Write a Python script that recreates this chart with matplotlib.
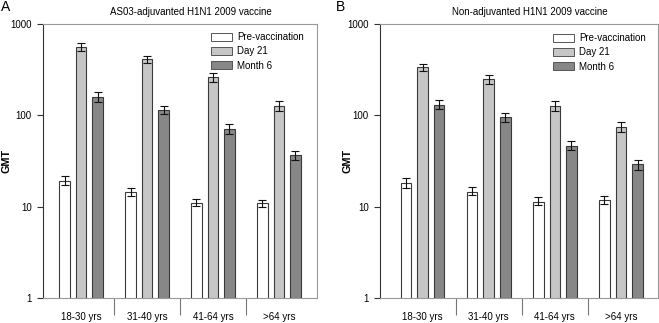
import matplotlib
matplotlib.use("Agg")
import matplotlib.pyplot as plt
import numpy as np
from matplotlib.patches import Patch

plt.rcParams['font.family'] = ['Liberation Sans', 'DejaVu Sans']

categories = ["18-30 yrs", "31-40 yrs", "41-64 yrs", ">64 yrs"]
series = ["Pre-vaccination", "Day 21", "Month 6"]

# Panel A: AS03-adjuvanted
a_pre = [19.3, 14.4, 11.1, 10.9]
a_pre_lo = [17.3, 13.2, 10.2, 9.9]
a_pre_hi = [21.9, 16.1, 12.05, 11.8]
a_d21 = [565, 411, 261, 127]
a_d21_lo = [511, 378, 234, 112]
a_d21_hi = [625, 447, 294, 142]
a_m6 = [160, 115, 71.5, 36.8]
a_m6_lo = [141, 103, 63, 32.5]
a_m6_hi = [182, 128, 79.6, 40.8]

# Panel B: Non-adjuvanted
b_pre = [18.2, 14.5, 11.3, 11.8]
b_pre_lo = [16.2, 13.4, 10.3, 10.8]
b_pre_hi = [20.8, 16.6, 12.6, 13.1]
b_d21 = [334, 247, 126, 74]
b_d21_lo = [304, 219, 112, 65]
b_d21_hi = [369, 273, 144, 85]
b_m6 = [131, 95, 46.7, 29.1]
b_m6_lo = [116, 84, 41.5, 25.5]
b_m6_hi = [149, 106, 53, 32.8]

colors = ["#ffffff", "#c6c6c6", "#878787"]
edge = "#3a3a3a"

W, H = 659, 323
fig = plt.figure(figsize=(W / 100, H / 100), dpi=100)


def px_axes(l, r, t, b):
    return fig.add_axes([l / W, 1 - b / H, (r - l) / W, (b - t) / H])


def draw(ax, vals, los, his, xlim, title, title_x, letter, letter_x, ylab_x, leg_xy):
    x = np.arange(len(categories))
    offs = [-0.25, 0.0, 0.25]
    bw = 0.16
    for v, lo, hi, off, c in zip(vals, los, his, offs, colors):
        v = np.array(v); lo = np.array(lo); hi = np.array(hi)
        ax.bar(x + off, v, width=bw, color=c, edgecolor=edge, linewidth=0.8, zorder=2)
        ax.errorbar(x + off, v, yerr=[v - lo, hi - v], fmt='none', ecolor='#111111',
                    elinewidth=0.8, capsize=3.2, capthick=0.8, zorder=3)
    ax.set_yscale('log')
    ax.set_ylim(1, 1000)
    ax.set_xlim(*xlim)
    ax.set_yticks([1, 10, 100, 1000])
    ax.set_yticklabels(["1", "10", "100", "1000"])
    ax.yaxis.set_minor_locator(matplotlib.ticker.NullLocator())
    ax.tick_params(axis='y', which='major', length=4, width=0.8, color='#333333',
                   labelsize=7, pad=4)
    ax.set_xticks(x)
    ax.set_xticklabels(categories)
    ax.tick_params(axis='x', which='major', length=0, labelsize=7, pad=10)
    ax.set_xticks(x[:-1] + 0.5, minor=True)
    ax.tick_params(axis='x', which='minor', length=12, width=0.8, color='#777777')
    ax.spines['left'].set_color('#333333')
    ax.spines['left'].set_linewidth(0.8)
    for s in ['top', 'right', 'bottom']:
        ax.spines[s].set_color('#999999')
        ax.spines[s].set_linewidth(0.8)
    fig.text(ylab_x / W, 1 - 161 / H, "GMT", rotation=90, fontsize=7.8, fontweight='bold',
             ha='center', va='center')
    fig.text(title_x / W, 1 - 12 / H, title, fontsize=7, ha='center', va='center')
    fig.text(letter_x / W, 1 - 7 / H, letter, fontsize=10, ha='left', va='center')
    handles = [Patch(facecolor=c, edgecolor='#555555', linewidth=0.7) for c in colors]
    ax.legend(handles, series, loc='upper left',
              bbox_to_anchor=(leg_xy[0] / W, 1 - leg_xy[1] / H),
              bbox_transform=fig.transFigure, frameon=False, fontsize=7,
              borderpad=0, borderaxespad=0, handlelength=2.2, handleheight=0.9,
              handletextpad=0.5, labelspacing=0.45)


axA = px_axes(43, 317, 24, 298)
draw(axA, [a_pre, a_d21, a_m6], [a_pre_lo, a_d21_lo, a_m6_lo], [a_pre_hi, a_d21_hi, a_m6_hi],
     (-0.576, 3.576), "AS03-adjuvanted H1N1 2009 vaccine", 191, "A", 1, 6, (211, 32))

axB = px_axes(380, 658, 24, 298)
draw(axB, [b_pre, b_d21, b_m6], [b_pre_lo, b_d21_lo, b_m6_lo], [b_pre_hi, b_d21_hi, b_m6_hi],
     (-0.644, 3.56), "Non-adjuvanted H1N1 2009 vaccine", 530, "B", 336, 347.5, (553, 33))

fig.savefig("out.png", dpi=100)
